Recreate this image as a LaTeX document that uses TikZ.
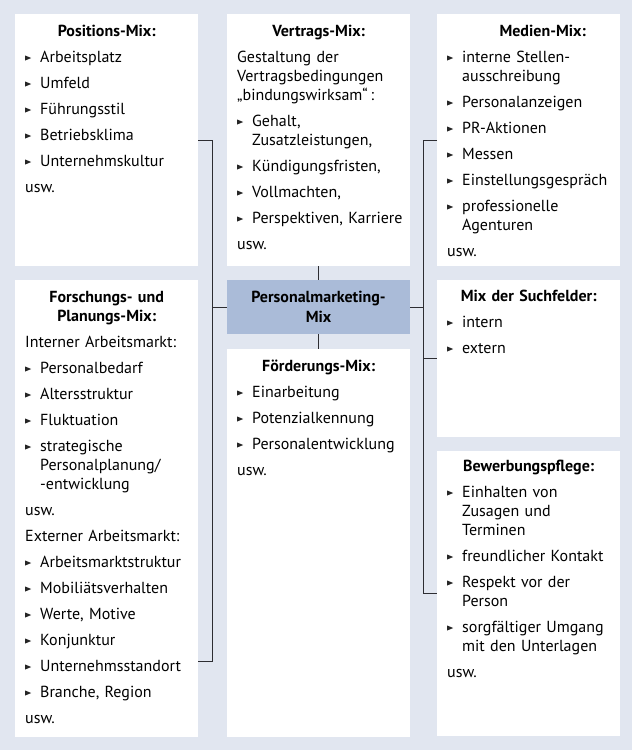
\documentclass[tikz,border=0pt]{standalone}
\usepackage{fontspec}
\setmainfont{PT Sans}
\definecolor{grund}{RGB}{225,230,240}
\definecolor{kernblau}{RGB}{170,187,216}
\definecolor{linie}{RGB}{45,45,50}
\newcommand{\dreieck}{\tikz[baseline=0pt]\fill[black!85] (0pt,1.5pt) -- (0pt,6.5pt) -- (6pt,4pt) -- cycle;}
\newcommand{\kopf}[1]{{\centering\bfseries #1\par}}
\newcommand{\pkt}[1]{\par\hangindent=15pt\hangafter=1\noindent\makebox[15pt][l]{\dreieck}#1}
\newcommand{\absatz}[1]{\par\noindent #1}
\begin{document}
\begin{tikzpicture}[x=1pt, y=-1pt,
  feld/.style={fill=white, inner sep=0pt, outer sep=0pt, anchor=north west, minimum width=183pt},
  kern/.style={fill=kernblau, inner sep=0pt, outer sep=0pt, anchor=north west, minimum width=183pt,
    minimum height=54pt, align=center, font=\fontsize{16}{20}\selectfont\bfseries},
  inhalt/.style={inner sep=0pt, anchor=base west, text width=163pt,
    font=\fontsize{16}{19}\selectfont,
    execute at begin node={\setlength{\parskip}{7pt}\raggedright\hyphenpenalty=10000}},
  verb/.style={draw=linie, line width=0.9pt}]
  % Hintergrund
  \fill[grund] (0,0) rectangle (632,750);
  % Felder
  \node[feld, minimum height=252pt] (pos) at (15,14) {};
  \node[feld, minimum height=457pt] (forsch) at (15,280) {};
  \node[feld, minimum height=252pt] (vertrag) at (227,14) {};
  \node[kern] (pm) at (227,280) {Personalmarketing-\\Mix};
  \node[feld, minimum height=388pt] (foerd) at (227,349) {};
  \node[feld, minimum height=252pt] (medien) at (437,14) {};
  \node[feld, minimum height=157pt] (such) at (437,280) {};
  \node[feld, minimum height=285pt] (bew) at (437,451) {};
  % Texte
  \node[inhalt] (posT) at ([shift={(10,22)}]pos.north west) {%
    \kopf{Positions-Mix:}
    \pkt{Arbeitsplatz}
    \pkt{Umfeld}
    \pkt{Führungsstil}
    \pkt{Betriebsklima}
    \pkt{Unternehmskultur}
    \absatz{usw.}};
  \node[inhalt] (forschT) at ([shift={(10,22)}]forsch.north west) {%
    \kopf{Forschungs- und\\Planungs-Mix:}
    \absatz{Interner Arbeitsmarkt:}
    \pkt{Personalbedarf}
    \pkt{Altersstruktur}
    \pkt{Fluktuation}
    \pkt{strategische\newline Personalplanung/\newline -entwicklung}
    \absatz{usw.}
    \absatz{Externer Arbeitsmarkt:}
    \pkt{Arbeitsmarktstruktur}
    \pkt{Mobiliätsverhalten}
    \pkt{Werte, Motive}
    \pkt{Konjunktur}
    \pkt{Unternehmsstandort}
    \pkt{Branche, Region}
    \absatz{usw.}};
  \node[inhalt] (vertragT) at ([shift={(10,22)}]vertrag.north west) {%
    \kopf{Vertrags-Mix:}
    \absatz{Gestaltung der\newline Vertragsbedingungen\newline „bindungswirksam“\,:}
    \pkt{Gehalt,\newline Zusatzleistungen,}
    \pkt{Kündigungsfristen,}
    \pkt{Vollmachten,}
    \pkt{\mbox{Perspektiven, Karriere}}
    \absatz{usw.}};
  \node[inhalt] (foerdT) at ([shift={(10,22)}]foerd.north west) {%
    \kopf{Förderungs-Mix:}
    \pkt{Einarbeitung}
    \pkt{Potenzialkennung}
    \pkt{Personalentwicklung}
    \absatz{usw.}};
  \node[inhalt] (medienT) at ([shift={(10,22)}]medien.north west) {%
    \kopf{\hspace*{28pt}Medien-Mix:}
    \pkt{interne Stellen-\newline ausschreibung}
    \pkt{Personalanzeigen}
    \pkt{PR-Aktionen}
    \pkt{Messen}
    \pkt{Einstellungsgespräch}
    \pkt{professionelle\newline Agenturen}
    \absatz{usw.}};
  \node[inhalt] (suchT) at ([shift={(10,21)}]such.north west) {%
    \kopf{Mix der Suchfelder:}
    \pkt{intern}
    \pkt{extern}};
  \node[inhalt] (bewT) at ([shift={(10,20)}]bew.north west) {%
    \kopf{Bewerbungspflege:}
    \pkt{Einhalten von\newline Zusagen und\newline Terminen}
    \pkt{freundlicher Kontakt}
    \pkt{Respekt vor der\newline Person}
    \pkt{sorgfältiger Umgang\newline mit den Unterlagen}
    \absatz{usw.}};
  % Verbindungen
  \coordinate (lbus) at (212.5,0);
  \coordinate (rbus) at (423.5,0);
  \coordinate (forschA) at (198,661);
  \draw[verb] (pos.east) -| (lbus |- forschA) -- (forschA);
  \draw[verb] (lbus |- pm.west) -- (pm.west);
  \draw[verb] (medien.west) -| (rbus |- bew.west) -- (bew.west);
  \draw[verb] (rbus |- pm.east) -- (pm.east);
  \draw[verb] (rbus |- such.west) -- (such.west);
  \draw[verb] (vertrag.south) -- (pm.north);
  \draw[verb] (pm.south) -- (foerd.north);
\end{tikzpicture}
\end{document}
